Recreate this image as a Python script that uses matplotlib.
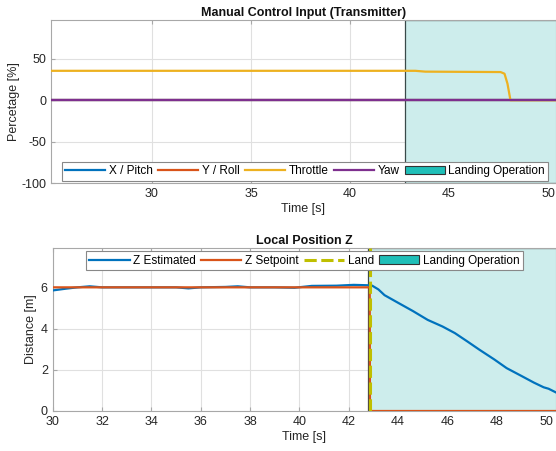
import numpy as np
import matplotlib
matplotlib.use("Agg")
import matplotlib.pyplot as plt
from matplotlib.patches import Patch
from matplotlib.lines import Line2D

plt.rcParams['font.family'] = ['Liberation Sans', 'DejaVu Sans']
plt.rcParams['axes.unicode_minus'] = False

# ---- data: top panel (manual control input) ----
t_top = [24.9, 43.3, 43.8, 47.6, 47.8, 47.95, 48.1, 50.4]
throttle = [35.5, 35.5, 34.5, 34.0, 32.0, 20.0, 0.0, 0.0]
t_flat = [24.9, 50.4]
pitch = [0.0, 0.0]
roll = [0.0, 0.0]
yaw = [0.0, 0.0]

# ---- data: bottom panel (local position Z) ----
t_est = [30.0, 30.5, 31.0, 31.5, 32.0, 33.5, 35.0, 35.5, 36.0, 37.0, 37.5, 38.0, 39.0,
         39.8, 40.5, 41.5, 42.2, 42.8, 42.95, 43.2, 43.45, 44.0, 44.6, 45.2, 45.8,
         46.3, 46.8, 47.3, 47.9, 48.4, 49.0, 49.5, 49.9, 50.1, 50.4]
z_est = [5.85, 5.93, 6.0, 6.05, 6.0, 6.0, 6.0, 5.95, 6.0, 6.02, 6.05, 6.0, 6.0,
         5.98, 6.07, 6.08, 6.12, 6.1, 6.08, 5.9, 5.62, 5.25, 4.85, 4.42, 4.1,
         3.78, 3.38, 2.97, 2.5, 2.08, 1.7, 1.38, 1.15, 1.08, 0.9]
t_sp = [30.0, 42.85, 42.86, 50.4]
z_sp = [6.0, 6.0, 0.0, 0.0]
t_land = 42.85
landing_start = 42.8
landing_end = 50.4

C_BLUE = '#0072BD'
C_ORANGE = '#D95319'
C_YELLOW = '#EDB120'
C_PURPLE = '#7E2F8E'
C_LAND = '#BFBF00'
C_TEAL = '#1FBFB8'
C_SHADE = '#CDEDEC'
C_GRID = '#E0E0E0'
C_SPINE = '#A8A8A8'
C_TEXT = '#262626'
FS = 9
LFS = 8.5

fig = plt.figure(figsize=(5.56, 4.51), dpi=100)
ax1 = fig.add_axes([0.0917, 0.594, 0.9083, 0.362])
ax2 = fig.add_axes([0.0948, 0.0887, 0.9052, 0.361])


def style(ax):
    ax.grid(True, color=C_GRID, linewidth=0.8)
    ax.set_axisbelow(True)
    for s in ax.spines.values():
        s.set_color(C_SPINE)
        s.set_linewidth(0.8)
    ax.tick_params(direction='in', top=True, right=True, length=3,
                   colors=C_SPINE, labelcolor=C_TEXT, labelsize=FS, width=0.8)


# ---- top panel ----
style(ax1)
ax1.axvspan(landing_start, landing_end + 5, facecolor=C_SHADE, edgecolor='#3A4A4A',
            linewidth=0.9, zorder=1)
ax1.plot(t_flat, pitch, color=C_BLUE, lw=1.6, zorder=3)
ax1.plot(t_flat, roll, color=C_ORANGE, lw=1.6, zorder=3)
ax1.plot(t_top, throttle, color=C_YELLOW, lw=1.6, zorder=3)
ax1.plot(t_flat, yaw, color=C_PURPLE, lw=1.6, zorder=4)
ax1.set_xlim(24.9, 50.4)
ax1.set_ylim(-100, 97)
ax1.set_yticks([-100, -50, 0, 50])
ax1.set_xticks([30, 35, 40, 45, 50])
ax1.set_xlabel('Time [s]', fontsize=FS, color=C_TEXT, labelpad=2)
ax1.set_ylabel('Percetage [%]', fontsize=FS, color=C_TEXT, labelpad=1)
ax1.set_title('Manual Control Input (Transmitter)', fontsize=FS, fontweight='bold',
              color='#111111', pad=3)
h1 = [Line2D([], [], color=C_BLUE, lw=1.6),
      Line2D([], [], color=C_ORANGE, lw=1.6),
      Line2D([], [], color=C_YELLOW, lw=1.6),
      Line2D([], [], color=C_PURPLE, lw=1.6),
      Patch(facecolor=C_TEAL, edgecolor='#333333', linewidth=0.8)]
leg1 = ax1.legend(h1, ['X / Pitch', 'Y / Roll', 'Throttle', 'Yaw', 'Landing Operation'],
                  ncol=5, loc='lower center', bbox_to_anchor=(0.503, 0.0),
                  fontsize=LFS, frameon=True, fancybox=False, framealpha=1,
                  edgecolor='#888888', handlelength=3.4, handletextpad=0.3,
                  columnspacing=0.45, borderpad=0.3, borderaxespad=0.2)
leg1.get_frame().set_linewidth(0.8)

# ---- bottom panel ----
style(ax2)
ax2.axvspan(landing_start, landing_end + 5, facecolor=C_SHADE, edgecolor='#3A4A4A',
            linewidth=0.9, zorder=1)
ax2.plot(t_est, z_est, color=C_BLUE, lw=1.6, zorder=3)
ax2.plot(t_sp, z_sp, color=C_ORANGE, lw=1.6, zorder=4)
ax2.axvline(t_land, color=C_LAND, lw=2.2, ls=(0, (4, 1.5)), zorder=5)
ax2.set_xlim(30, 50.4)
ax2.set_ylim(0, 7.9)
ax2.set_yticks([0, 2, 4, 6])
ax2.set_xticks(np.arange(30, 51, 2))
ax2.set_xlabel('Time [s]', fontsize=FS, color=C_TEXT, labelpad=2)
ax2.set_ylabel('Distance [m]', fontsize=FS, color=C_TEXT, labelpad=3)
ax2.set_title('Local Position Z', fontsize=FS, fontweight='bold', color='#111111', pad=3)
h2 = [Line2D([], [], color=C_BLUE, lw=1.6),
      Line2D([], [], color=C_ORANGE, lw=1.6),
      Line2D([], [], color=C_LAND, lw=2.2, ls=(0, (4, 1.5))),
      Patch(facecolor=C_TEAL, edgecolor='#333333', linewidth=0.8)]
leg2 = ax2.legend(h2, ['Z Estimated', 'Z Setpoint', 'Land', 'Landing Operation'],
                  ncol=4, loc='upper center', bbox_to_anchor=(0.5, 1.0),
                  fontsize=LFS, frameon=True, fancybox=False, framealpha=1,
                  edgecolor='#888888', handlelength=3.4, handletextpad=0.3,
                  columnspacing=0.45, borderpad=0.3, borderaxespad=0.25)
leg2.get_frame().set_linewidth(0.8)

fig.savefig('out.png', dpi=100)
